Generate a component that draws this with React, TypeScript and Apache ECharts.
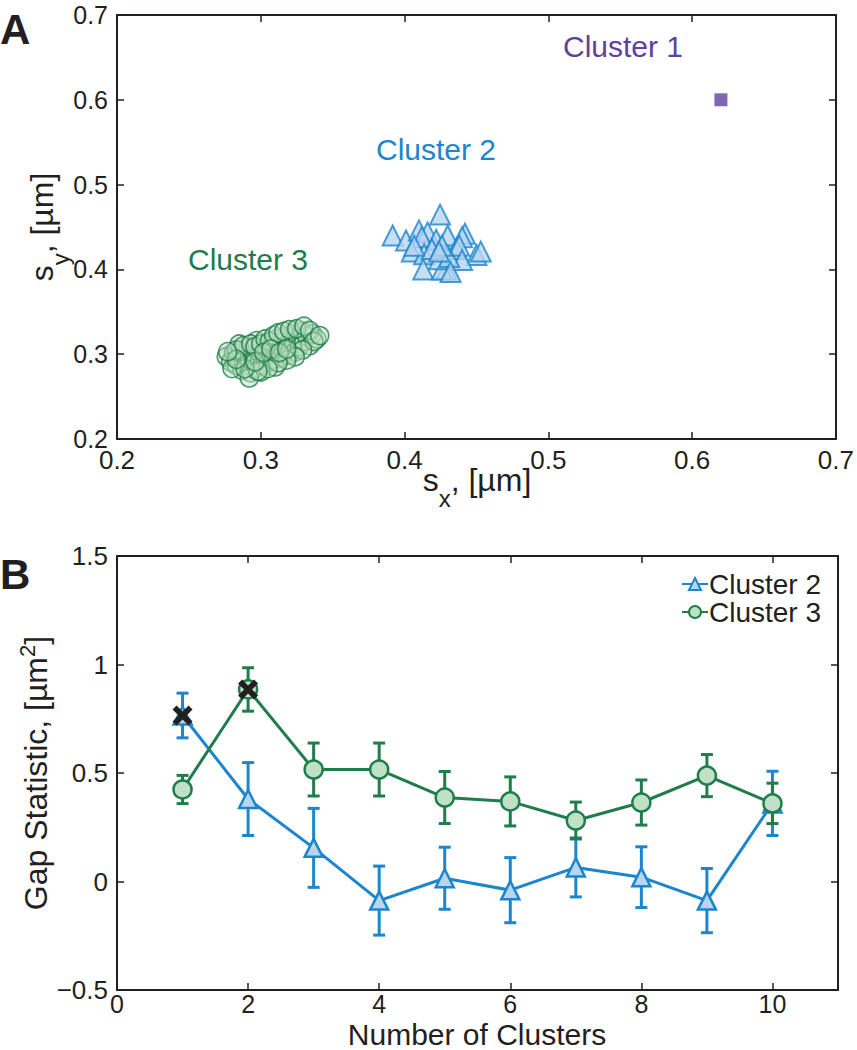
import React, { useEffect, useRef } from 'react';
import * as echarts from 'echarts';

const FONT = "'Liberation Sans', Arial, Helvetica, sans-serif";
const INK = '#231f20';
const BLUE = '#1b86cd';
const BLUE_FILL = '#b9d5ef';
const GREEN = '#1e7d4b';
const GREEN_FILL = '#c0e1c6';
const PURPLE = '#62409c';

// Panel A: spot widths (sx, sy) in µm
const cluster1: number[][] = [[0.62, 0.6]];
const cluster2: number[][] = [
  [0.4247, 0.4646], [0.3917, 0.440], [0.401, 0.434], [0.410, 0.446], [0.416, 0.4436],
  [0.412, 0.438], [0.422, 0.435], [0.430, 0.440], [0.442, 0.442], [0.440, 0.438],
  [0.405, 0.421], [0.4136, 0.418], [0.436, 0.424], [0.438, 0.428], [0.450, 0.417],
  [0.453, 0.421], [0.413, 0.400], [0.429, 0.400], [0.426, 0.400], [0.440, 0.411],
  [0.424, 0.412], [0.431, 0.4145], [0.419, 0.424], [0.426, 0.428], [0.4067, 0.428],
  [0.432, 0.397], [0.424, 0.421],
];
const cluster3: number[][] = [
  [0.276, 0.297], [0.279, 0.291], [0.281, 0.302], [0.283, 0.287], [0.284, 0.296],
  [0.286, 0.305], [0.287, 0.281], [0.288, 0.292], [0.289, 0.299], [0.290, 0.287],
  [0.291, 0.308], [0.292, 0.295], [0.293, 0.278], [0.294, 0.301], [0.295, 0.289],
  [0.296, 0.297], [0.297, 0.284], [0.298, 0.306], [0.299, 0.293], [0.300, 0.300],
  [0.301, 0.287], [0.302, 0.311], [0.303, 0.296], [0.304, 0.303], [0.305, 0.290],
  [0.306, 0.308], [0.307, 0.299], [0.308, 0.314], [0.309, 0.294], [0.310, 0.305],
  [0.311, 0.318], [0.312, 0.301], [0.313, 0.309], [0.314, 0.296], [0.315, 0.314],
  [0.316, 0.304], [0.317, 0.321], [0.318, 0.310], [0.319, 0.299], [0.320, 0.316],
  [0.321, 0.306], [0.322, 0.324], [0.323, 0.312], [0.324, 0.303], [0.326, 0.318],
  [0.327, 0.309], [0.329, 0.327], [0.330, 0.315], [0.332, 0.321], [0.334, 0.310],
  [0.336, 0.324], [0.339, 0.318], [0.285, 0.312], [0.297, 0.316], [0.310, 0.285],
  [0.300, 0.279], [0.280, 0.283], [0.292, 0.272],
  [0.283, 0.305], [0.288, 0.310], [0.293, 0.312], [0.296, 0.309], [0.300, 0.312],
  [0.303, 0.318], [0.306, 0.315], [0.309, 0.322], [0.312, 0.325], [0.316, 0.327],
  [0.320, 0.329], [0.325, 0.330], [0.330, 0.333], [0.334, 0.328], [0.337, 0.315],
  [0.341, 0.322], [0.329, 0.305], [0.324, 0.297], [0.318, 0.293], [0.312, 0.290],
  [0.305, 0.283], [0.298, 0.280], [0.289, 0.283], [0.283, 0.294], [0.277, 0.303],
  [0.296, 0.291], [0.302, 0.302], [0.307, 0.306], [0.313, 0.302], [0.318, 0.306],
];

// Panel B: gap statistic vs number of clusters
const kValues = [1, 2, 3, 4, 5, 6, 7, 8, 9, 10];
const gap2Mean = [0.765, 0.38, 0.155, -0.088, 0.015, -0.04, 0.065, 0.02, -0.088, 0.36];
const gap2Err = [0.103, 0.168, 0.182, 0.159, 0.143, 0.15, 0.136, 0.14, 0.148, 0.148];
const gap3Mean = [0.424, 0.885, 0.516, 0.516, 0.387, 0.369, 0.281, 0.364, 0.488, 0.36];
const gap3Err = [0.065, 0.1, 0.122, 0.122, 0.12, 0.113, 0.085, 0.104, 0.097, 0.093];
const optimalK: number[][] = [[1, 0.765], [2, 0.885]];

const xTicksA = { min: 0.2, max: 0.7, interval: 0.1 };
const yTicksA = { min: 0.2, max: 0.7, interval: 0.1 };
const xTicksB = { min: 0, max: 11, interval: 2 };
const yTicksB = { min: -0.5, max: 1.5, interval: 0.5 };

const CROSS = 'path://M0,2 L2,0 L5,3 L8,0 L10,2 L7,5 L10,8 L8,10 L5,7 L2,10 L0,8 L3,5 Z';

function axisBase(extra: any) {
  return {
    type: 'value',
    axisLine: { show: true, onZero: false, lineStyle: { color: INK, width: 2 } },
    axisTick: { show: true, inside: true, length: 7, lineStyle: { color: INK, width: 1.5 } },
    splitLine: { show: false },
    axisLabel: { fontSize: 26, fontFamily: FONT, color: INK },
    ...extra,
  };
}

function errorSeries(color: string, mean: number[], err: number[], z: number) {
  return {
    type: 'custom',
    xAxisIndex: 2,
    yAxisIndex: 2,
    silent: true,
    z,
    data: kValues.map((k, i) => [k, mean[i] - err[i], mean[i] + err[i]]),
    encode: { x: 0, y: [1, 2] },
    renderItem: (params: any, api: any) => {
      const x = api.value(0);
      const lo = api.coord([x, api.value(1)]);
      const hi = api.coord([x, api.value(2)]);
      const w = 6;
      const style = { stroke: color, lineWidth: 3, fill: 'none' };
      return {
        type: 'group',
        children: [
          { type: 'line', shape: { x1: lo[0], y1: lo[1], x2: hi[0], y2: hi[1] }, style },
          { type: 'line', shape: { x1: lo[0] - w, y1: lo[1], x2: lo[0] + w, y2: lo[1] }, style },
          { type: 'line', shape: { x1: hi[0] - w, y1: hi[1], x2: hi[0] + w, y2: hi[1] }, style },
        ],
      };
    },
  };
}

const richSub = {
  n: { fontSize: 32, fontFamily: FONT, color: INK, fill: INK, lineHeight: 36, verticalAlign: 'top' },
  s: { fontSize: 24, fontFamily: FONT, color: INK, fill: INK, lineHeight: 24, padding: [22, 0, 0, 0], verticalAlign: 'top' },
};
const richSup = {
  n: { fontSize: 32, fontFamily: FONT, color: INK, fill: INK, lineHeight: 36, padding: [8, 0, 0, 0], verticalAlign: 'bottom' },
  p: { fontSize: 22, fontFamily: FONT, color: INK, fill: INK, lineHeight: 22, verticalAlign: 'top' },
};

export default function App() {
  const ref = useRef<HTMLDivElement>(null);
  useEffect(() => {
    if (!ref.current) return;
    const chart = echarts.init(ref.current, undefined, { renderer: 'svg' });
    const fmt1 = (v: number) => v.toFixed(1);
    const fmtB = (v: number) => {
      const r = Math.round(v * 10) / 10;
      if (r < 0) return '\u2212' + Math.abs(r);
      return String(r);
    };
    const lab = { fontSize: 26, fontFamily: FONT, color: INK, lineHeight: 22 };
    const option: any = {
      animation: false,
      backgroundColor: '#ffffff',
      grid: [
        { left: 117, top: 15, width: 721, height: 424 },
        { left: 117, top: 556, width: 721, height: 434 },
      ],
      xAxis: [
        axisBase({ gridIndex: 0, position: 'bottom', ...xTicksA, axisLabel: { ...lab, margin: 10, formatter: fmt1 } }),
        axisBase({ gridIndex: 0, position: 'top', ...xTicksA, axisLabel: { show: false } }),
        axisBase({ gridIndex: 1, position: 'bottom', ...xTicksB, axisLabel: { ...lab, fontSize: 25, margin: 3, showMaxLabel: false, formatter: (v: number) => (v > 10 ? '' : String(v)) } }),
        axisBase({ gridIndex: 1, position: 'top', ...xTicksB, axisLabel: { show: false } }),
      ],
      yAxis: [
        axisBase({ gridIndex: 0, position: 'left', ...yTicksA, axisLabel: { ...lab, fontSize: 25, lineHeight: 18, margin: 9, formatter: fmt1 } }),
        axisBase({ gridIndex: 0, position: 'right', ...yTicksA, axisLabel: { show: false } }),
        axisBase({ gridIndex: 1, position: 'left', ...yTicksB, axisLabel: { ...lab, margin: 9, formatter: fmtB } }),
        axisBase({ gridIndex: 1, position: 'right', ...yTicksB, axisLabel: { show: false } }),
      ],
      legend: {
        show: true,
        orient: 'vertical',
        left: 676,
        top: 565,
        itemWidth: 26,
        itemHeight: 15,
        itemGap: 0,
        data: ['Cluster 2', 'Cluster 3'],
        textStyle: { fontSize: 28, fontFamily: FONT, color: INK, lineHeight: 27, padding: [0, 0, 0, -4] },
      },
      series: [
        {
          name: 'A Cluster 3', type: 'scatter', xAxisIndex: 0, yAxisIndex: 0, data: cluster3,
          symbol: 'circle', symbolSize: 18, z: 3,
          itemStyle: { color: 'rgba(184,222,191,0.6)', borderColor: GREEN, borderWidth: 1.6 },
        },
        {
          name: 'A Cluster 2', type: 'scatter', xAxisIndex: 0, yAxisIndex: 0, data: cluster2,
          symbol: 'triangle', symbolSize: 20, z: 3,
          itemStyle: { color: BLUE_FILL, borderColor: BLUE, borderWidth: 2 },
        },
        {
          name: 'A Cluster 1', type: 'scatter', xAxisIndex: 0, yAxisIndex: 0, data: cluster1,
          symbol: 'rect', symbolSize: 13, z: 3,
          itemStyle: { color: PURPLE },
        },
        errorSeries(BLUE, gap2Mean, gap2Err, 4),
        {
          name: 'Cluster 2', type: 'line', xAxisIndex: 2, yAxisIndex: 2, z: 5,
          data: kValues.map((k, i) => [k, gap2Mean[i]]),
          symbol: 'triangle', symbolSize: 18, showSymbol: true,
          lineStyle: { color: BLUE, width: 3 },
          itemStyle: { color: BLUE_FILL, borderColor: BLUE, borderWidth: 2.5 },
        },
        errorSeries(GREEN, gap3Mean, gap3Err, 6),
        {
          name: 'Cluster 3', type: 'line', xAxisIndex: 2, yAxisIndex: 2, z: 7,
          data: kValues.map((k, i) => [k, gap3Mean[i]]),
          symbol: 'circle', symbolSize: 18, showSymbol: true,
          lineStyle: { color: GREEN, width: 3 },
          itemStyle: { color: GREEN_FILL, borderColor: GREEN, borderWidth: 2.5 },
        },
        {
          name: 'Optimal', type: 'scatter', xAxisIndex: 2, yAxisIndex: 2, z: 8,
          data: optimalK, symbol: CROSS, symbolSize: 20,
          itemStyle: { color: INK, borderWidth: 0, opacity: 1 },
        },
      ],
      graphic: [
        { type: 'text', x: 0, y: 8, style: { text: 'A', fontSize: 42, fontWeight: 'bold', fontFamily: FONT, fill: INK } },
        { type: 'text', x: 0, y: 553, style: { text: 'B', fontSize: 42, fontWeight: 'bold', fontFamily: FONT, fill: INK } },
        { type: 'text', x: 623, y: 46, style: { text: 'Cluster 1', fontSize: 30, fontFamily: FONT, fill: PURPLE, align: 'center', verticalAlign: 'middle' } },
        { type: 'text', x: 436, y: 149, style: { text: 'Cluster 2', fontSize: 30, fontFamily: FONT, fill: BLUE, align: 'center', verticalAlign: 'middle' } },
        { type: 'text', x: 248, y: 259, style: { text: 'Cluster 3', fontSize: 30, fontFamily: FONT, fill: GREEN, align: 'center', verticalAlign: 'middle' } },
        {
          type: 'text', x: 477, y: 482,
          style: { text: '{n|s}{s|x}{n|, [\u00b5m]}', rich: richSub, align: 'center', verticalAlign: 'middle' },
        },
        {
          type: 'text', x: 44, y: 227, rotation: Math.PI / 2,
          style: { text: '{n|s}{s|y}{n|, [\u00b5m]}', rich: richSub, align: 'center', verticalAlign: 'middle' },
        },
        {
          type: 'text', x: 477, y: 1034,
          style: { text: 'Number of Clusters', fontSize: 30, lineHeight: 30, fontFamily: FONT, fill: INK, align: 'center', verticalAlign: 'middle' },
        },
        {
          type: 'text', x: 34, y: 773, rotation: Math.PI / 2,
          style: { text: '{n|Gap Statistic, [\u00b5m}{p|2}{n|]}', rich: richSup, align: 'center', verticalAlign: 'middle' },
        },
      ],
    };
    chart.setOption(option);
    return () => chart.dispose();
  }, []);
  return <div ref={ref} style={{ position: 'absolute', left: 0, top: 0, width: 857, height: 1050 }} />;
}
